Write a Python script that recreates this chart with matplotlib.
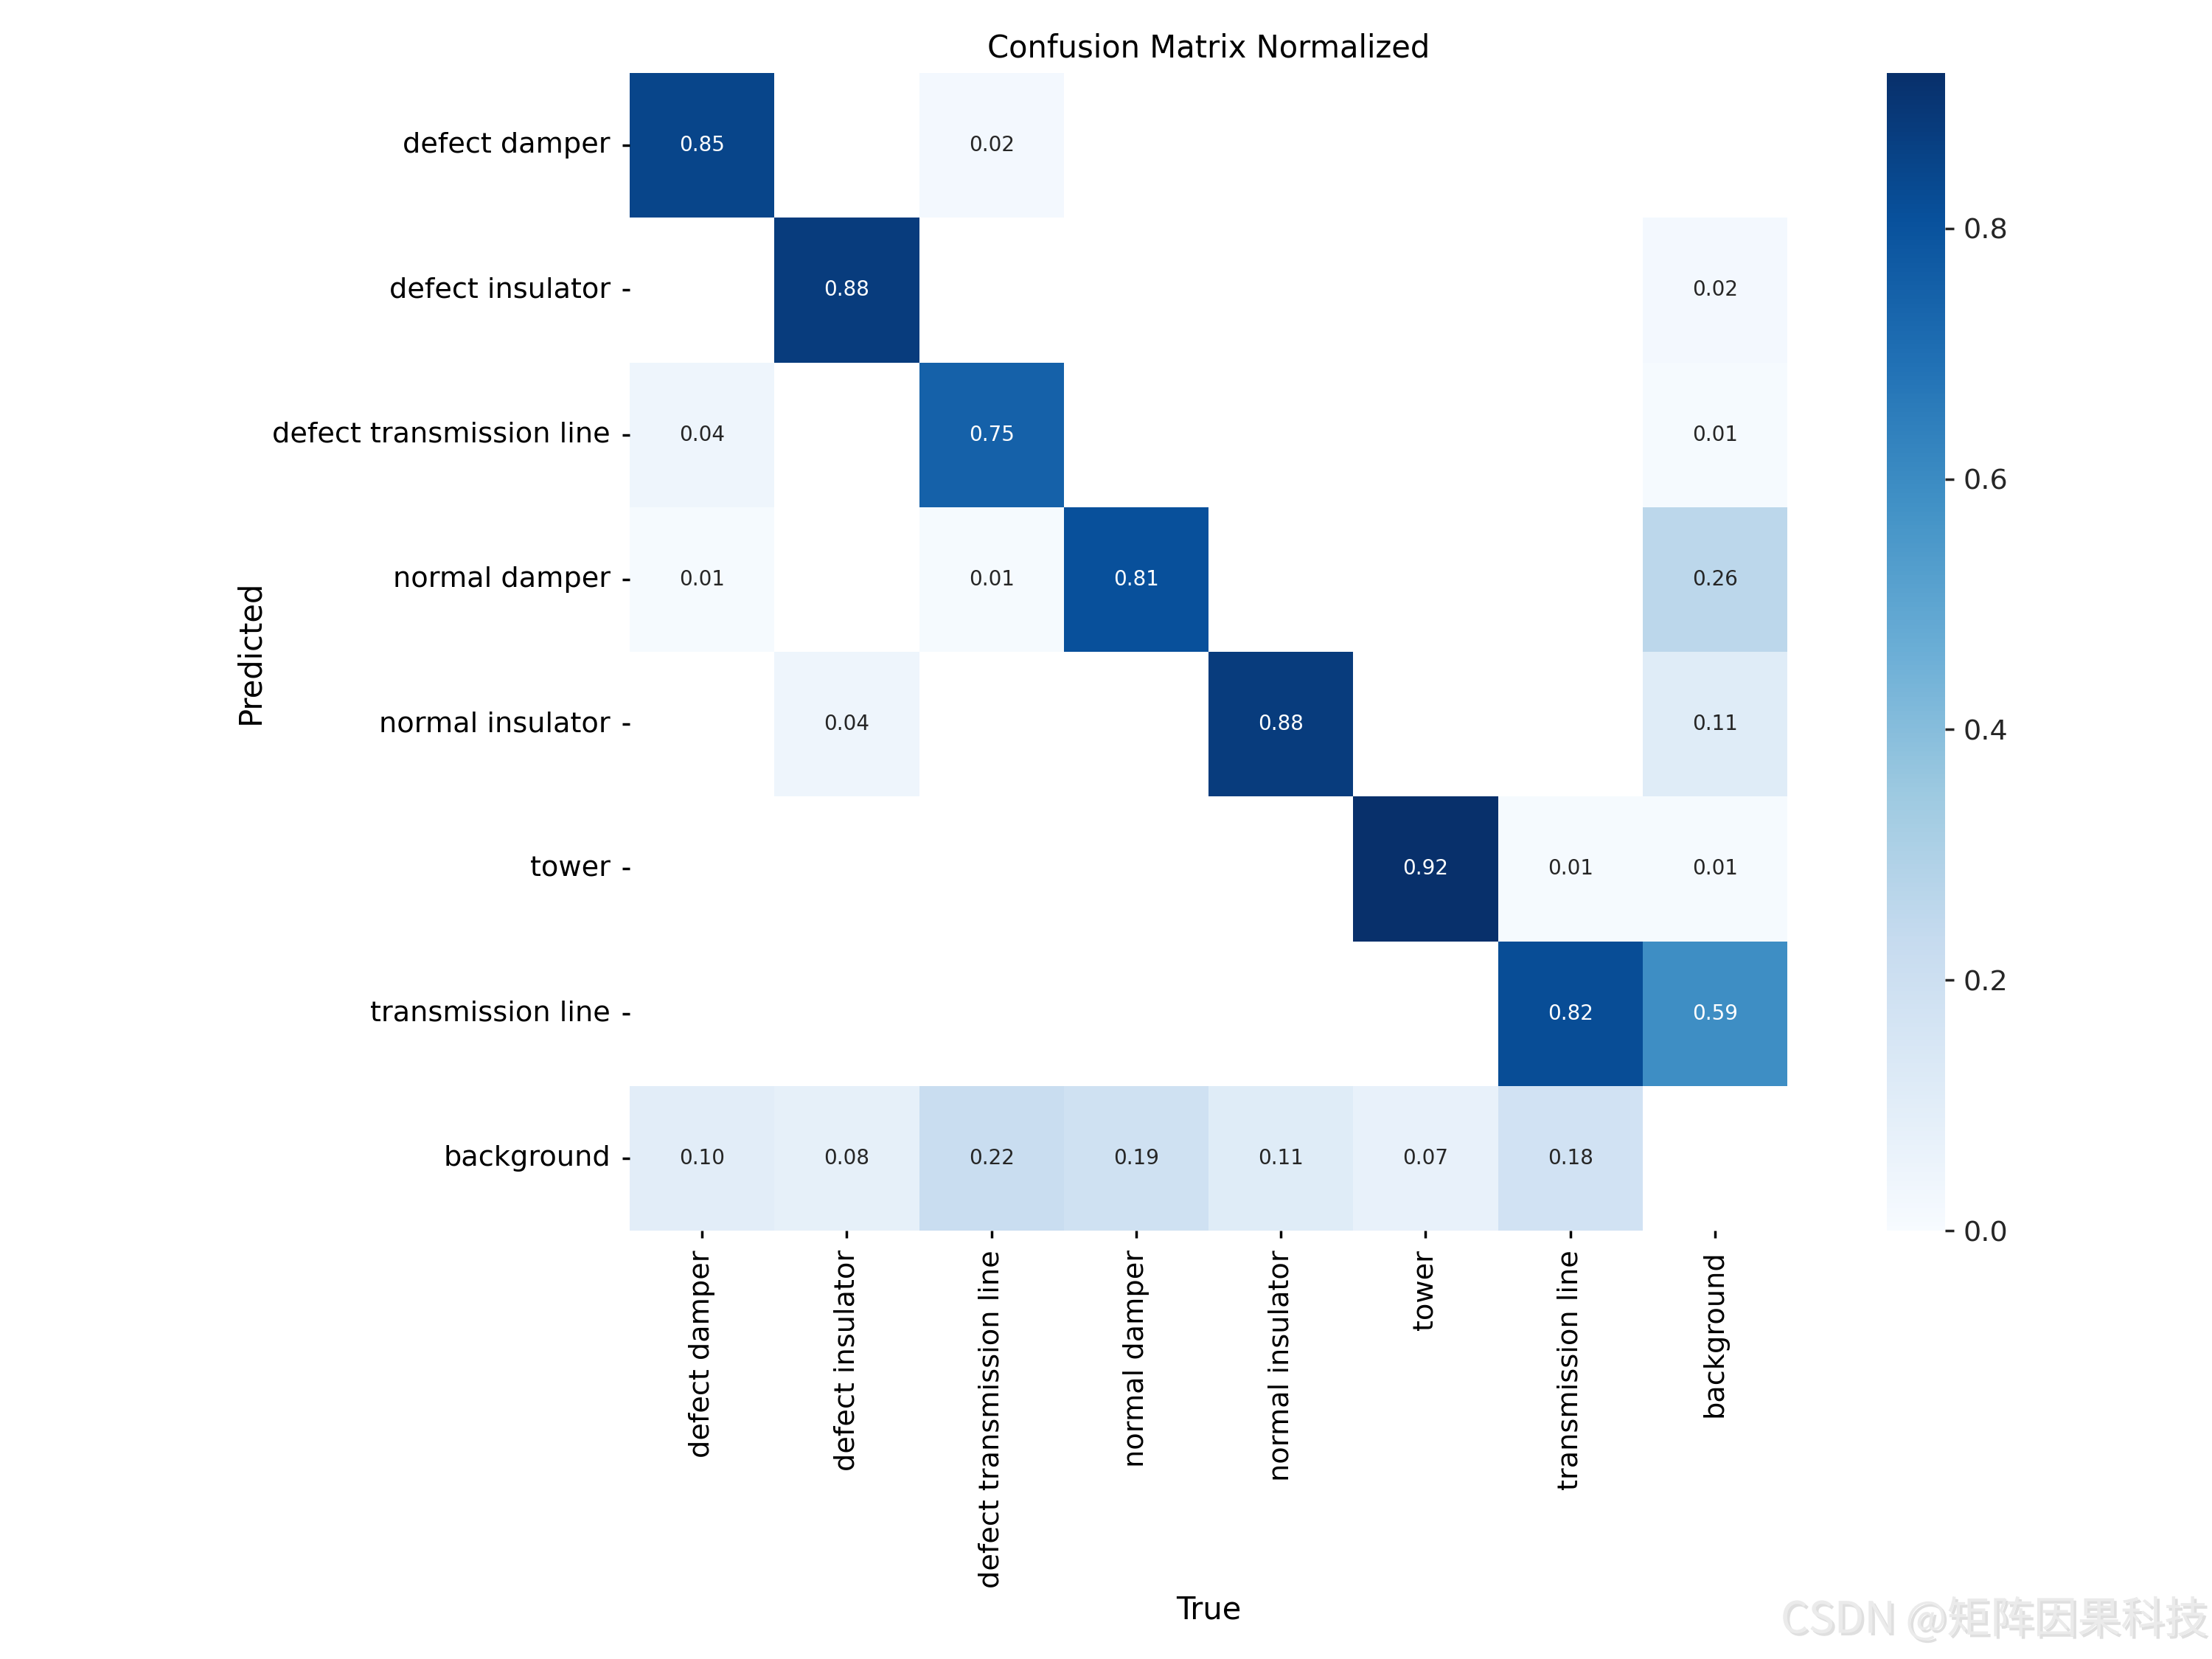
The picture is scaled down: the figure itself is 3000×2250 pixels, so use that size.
import numpy as np
import matplotlib
matplotlib.use("Agg")
import matplotlib.pyplot as plt
import matplotlib.patheffects as pe
import seaborn as sns

labels = ["defect damper", "defect insulator", "defect transmission line",
          "normal damper", "normal insulator", "tower", "transmission line",
          "background"]
nan = np.nan
# rows = Predicted, columns = True
row_defect_damper = [0.85, nan, 0.02, nan, nan, nan, nan, nan]
row_defect_insulator = [nan, 0.88, nan, nan, nan, nan, nan, 0.02]
row_defect_transmission_line = [0.04, nan, 0.75, nan, nan, nan, nan, 0.01]
row_normal_damper = [0.01, nan, 0.01, 0.81, nan, nan, nan, 0.26]
row_normal_insulator = [nan, 0.04, nan, nan, 0.88, nan, nan, 0.11]
row_tower = [nan, nan, nan, nan, nan, 0.924, 0.01, 0.01]
row_transmission_line = [nan, nan, nan, nan, nan, nan, 0.82, 0.59]
row_background = [0.10, 0.08, 0.22, 0.19, 0.11, 0.07, 0.18, nan]

matrix = np.array([row_defect_damper, row_defect_insulator,
                   row_defect_transmission_line, row_normal_damper,
                   row_normal_insulator, row_tower, row_transmission_line,
                   row_background])

plt.rcParams['font.family'] = ['DejaVu Sans']
fig = plt.figure(figsize=(12, 9), dpi=250)
ax = fig.add_axes([0.2847, 0.2582, 0.5233, 0.6978])
cax = fig.add_axes([0.853, 0.2582, 0.0263, 0.6978])

sns.heatmap(matrix, ax=ax, cbar_ax=cax, annot=True, annot_kws={"size": 8},
            cmap="Blues", fmt=".2f", vmin=0.0, square=False,
            xticklabels=labels, yticklabels=labels)
ax.set_facecolor((1, 1, 1))

ax.tick_params(axis='both', which='both', length=3, width=1, pad=4.5,
               labelsize=11, colors='black')
ax.set_xticklabels(labels, rotation=90)
ax.set_yticklabels(labels, rotation=0)
for t in ax.get_xticklabels() + ax.get_yticklabels():
    t.set_color('black')

cax.tick_params(labelsize=11, length=3.5, width=1, pad=3.5, colors='#262626')
cax.set_yticks([0.0, 0.2, 0.4, 0.6, 0.8])
cax.set_yticklabels(["0.0", "0.2", "0.4", "0.6", "0.8"])
for s in cax.spines.values():
    s.set_visible(False)

fig.text(0.5233 / 2 + 0.2847, 1 - 65 / 2250, "Confusion Matrix Normalized",
         ha='center', va='center', fontsize=12, color='black')
fig.text(0.2847 + 0.5233 / 2, 1 - 2183 / 2250, "True",
         ha='center', va='center', fontsize=12, color='black')
fig.text(339 / 3000, 0.2582 + 0.6978 / 2, "Predicted", rotation=90,
         ha='center', va='center', fontsize=12, color='black')

wm = fig.text(0.998, 1 - 2198 / 2250, "CSDN @矩阵因果科技",
              ha='right', va='center', fontsize=17, color='#ebebeb',
              family=['Noto Sans CJK SC', 'DejaVu Sans'])
wm.set_path_effects([pe.SimplePatchShadow(offset=(1.0, -1.0),
                                          shadow_rgbFace='#b8b8b8', alpha=0.45),
                     pe.Normal()])

fig.savefig("out.png", dpi=250)
